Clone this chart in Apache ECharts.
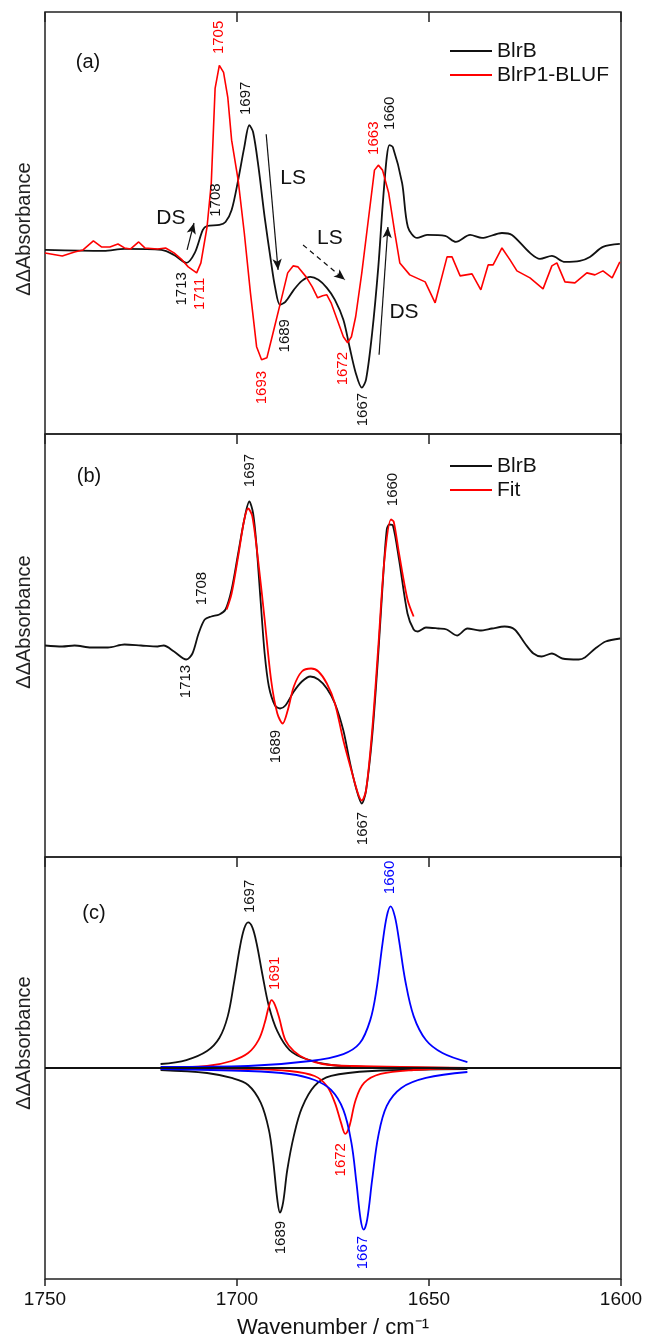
<!DOCTYPE html>
<html>
<head>
<meta charset="utf-8">
<title>BlrB FTIR difference spectra</title>
<script src="https://cdn.jsdelivr.net/npm/echarts@6/dist/echarts.min.js"></script>
<style>
  html, body { margin: 0; padding: 0; background: #fff; }
  #chart { width: 648px; height: 1340px; }
</style>
</head>
<body>
<div id="chart"></div>
<script>
// [wavenumber, ΔΔA (arb.)]
const blrbA = [[1750.0,-0.27],[1734.7,-0.28],[1729.3,-0.26],[1719.7,-0.27],[1716.4,-0.32],[1713.2,-0.40],[1711.0,-0.30],[1708.9,-0.07],[1707.8,-0.03],[1704.6,-0.02],[1703.0,0.01],[1701.4,0.13],[1699.7,0.43],[1698.1,0.76],[1696.8,0.98],[1695.8,0.91],[1694.4,0.56],[1692.8,0.06],[1691.1,-0.40],[1690.1,-0.64],[1688.8,-0.82],[1687.4,-0.79],[1685.2,-0.67],[1683.1,-0.58],[1680.9,-0.54],[1678.8,-0.57],[1676.6,-0.65],[1674.5,-0.77],[1672.3,-0.97],[1670.7,-1.24],[1669.1,-1.50],[1667.5,-1.65],[1666.4,-1.57],[1664.8,-1.10],[1663.2,-0.44],[1662.1,0.16],[1661.0,0.66],[1660.3,0.78],[1659.4,0.76],[1657.0,0.40],[1655.5,-0.04],[1653.1,-0.15],[1650.5,-0.12],[1645.8,-0.13],[1643.0,-0.19],[1639.3,-0.12],[1636.2,-0.15],[1631.0,-0.10],[1628.4,-0.12],[1623.7,-0.30],[1621.1,-0.36],[1618.0,-0.33],[1614.6,-0.39],[1610.7,-0.38],[1608.1,-0.34],[1604.7,-0.24],[1600.3,-0.21]];

const blrp1A = [[1750.0,-0.30],[1745.5,-0.33],[1742.3,-0.29],[1740.1,-0.27],[1737.4,-0.18],[1735.3,-0.24],[1733.1,-0.24],[1731.0,-0.21],[1729.3,-0.25],[1727.7,-0.26],[1725.6,-0.19],[1724.0,-0.25],[1720.7,-0.26],[1718.6,-0.25],[1716.4,-0.30],[1714.3,-0.37],[1712.7,-0.44],[1710.5,-0.50],[1709.4,-0.40],[1707.8,-0.04],[1706.7,0.40],[1705.7,1.35],[1704.6,1.58],[1703.5,1.51],[1702.4,1.26],[1701.4,0.83],[1699.7,0.43],[1698.1,-0.10],[1696.5,-0.70],[1694.9,-1.24],[1693.6,-1.37],[1692.2,-1.35],[1690.6,-1.10],[1688.5,-0.77],[1686.8,-0.50],[1685.4,-0.43],[1684.1,-0.44],[1682.0,-0.54],[1680.4,-0.64],[1679.0,-0.75],[1677.7,-0.73],[1676.6,-0.72],[1675.5,-0.80],[1673.9,-0.97],[1672.3,-1.14],[1671.2,-1.20],[1670.2,-1.14],[1669.1,-0.94],[1667.5,-0.50],[1665.9,0.00],[1664.2,0.53],[1663.2,0.58],[1662.1,0.53],[1660.5,0.30],[1658.9,-0.10],[1657.6,-0.40],[1655.0,-0.52],[1651.0,-0.59],[1648.4,-0.80],[1645.3,-0.34],[1644.0,-0.34],[1641.9,-0.53],[1638.8,-0.51],[1636.5,-0.67],[1634.6,-0.42],[1633.3,-0.42],[1631.0,-0.25],[1628.9,-0.37],[1627.1,-0.48],[1623.7,-0.55],[1620.3,-0.66],[1618.0,-0.43],[1616.7,-0.40],[1614.6,-0.59],[1612.0,-0.60],[1608.9,-0.50],[1606.8,-0.52],[1604.7,-0.48],[1602.3,-0.55],[1600.3,-0.39]];

const blrbB = [[1750,0.00],[1745.5,-0.01],[1742.3,0.00],[1738,-0.02],[1733.6,-0.02],[1729.3,0.01],[1725.0,0.00],[1720.7,-0.01],[1719.1,0.00],[1716.4,-0.06],[1713.2,-0.14],[1711.6,-0.08],[1710.0,0.12],[1708.4,0.26],[1706.7,0.29],[1704.6,0.31],[1703.0,0.36],[1701.4,0.56],[1699.7,0.92],[1698.1,1.26],[1696.8,1.44],[1695.8,1.32],[1694.9,0.99],[1693.8,0.42],[1692.8,-0.08],[1691.7,-0.41],[1690.1,-0.60],[1688.8,-0.63],[1687.4,-0.60],[1685.2,-0.46],[1683.1,-0.36],[1680.9,-0.31],[1678.8,-0.34],[1676.6,-0.43],[1674.5,-0.58],[1672.3,-0.85],[1670.7,-1.15],[1669.1,-1.41],[1667.5,-1.58],[1666.4,-1.45],[1664.8,-0.91],[1663.2,-0.08],[1662.1,0.59],[1661.0,1.16],[1660.3,1.21],[1659.4,1.20],[1657.8,0.86],[1655.6,0.32],[1654.0,0.16],[1652.9,0.14],[1650.8,0.18],[1647.6,0.17],[1645.4,0.16],[1642.7,0.10],[1640.0,0.17],[1636.8,0.15],[1633.6,0.17],[1630.3,0.19],[1627.7,0.16],[1625.0,0.02],[1622.8,-0.08],[1620.7,-0.11],[1618.0,-0.08],[1615.3,-0.13],[1611.0,-0.14],[1609.4,-0.12],[1606.7,-0.03],[1604.0,0.04],[1600.2,0.07]];

const fitB = [[1702.7,0.36],[1701.4,0.52],[1699.7,0.89],[1698.1,1.26],[1697.1,1.37],[1696.0,1.29],[1694.4,0.82],[1692.8,0.26],[1691.1,-0.35],[1689.5,-0.68],[1688.1,-0.78],[1686.8,-0.65],[1685.2,-0.41],[1683.1,-0.26],[1680.7,-0.23],[1678.8,-0.26],[1676.6,-0.38],[1674.5,-0.58],[1672.3,-0.95],[1670.2,-1.25],[1668.5,-1.48],[1667.5,-1.55],[1666.4,-1.45],[1664.8,-0.85],[1663.2,-0.01],[1661.6,0.86],[1659.9,1.26],[1659.2,1.24],[1657.8,0.92],[1655.6,0.46],[1654.0,0.29]];

const band1697 = [[1719.9,0.04],[1713.2,0.08],[1707.8,0.17],[1704.6,0.30],[1702.4,0.52],[1700.8,0.85],[1699.2,1.22],[1698.1,1.40],[1697.1,1.46],[1696.0,1.41],[1694.9,1.25],[1693.3,0.92],[1691.7,0.62],[1689.5,0.37],[1686.3,0.18],[1682.0,0.09],[1675.5,0.03],[1664.8,0.01],[1640.0,0.00]];
const band1689 = [[1719.9,-0.02],[1707.8,-0.05],[1701.4,-0.10],[1697.1,-0.17],[1693.8,-0.35],[1691.7,-0.62],[1690.6,-0.92],[1689.5,-1.32],[1688.8,-1.45],[1688.0,-1.35],[1686.9,-1.02],[1685.2,-0.68],[1683.1,-0.40],[1679.8,-0.18],[1675.5,-0.08],[1664.8,-0.03],[1640.0,-0.01]];
const band1691 = [[1719.9,0.00],[1707.8,0.02],[1701.4,0.07],[1697.1,0.15],[1694.4,0.28],[1692.8,0.45],[1691.7,0.62],[1691.0,0.68],[1690.1,0.63],[1689.0,0.50],[1687.4,0.28],[1685.2,0.17],[1682.0,0.09],[1677.7,0.04],[1670.2,0.02],[1640.0,0.00]];
const band1672 = [[1719.9,0.00],[1697.1,-0.01],[1686.3,-0.03],[1679.8,-0.08],[1676.6,-0.18],[1674.5,-0.35],[1672.9,-0.55],[1671.8,-0.66],[1670.7,-0.58],[1669.1,-0.32],[1666.9,-0.15],[1662.6,-0.06],[1654.0,-0.02],[1640.0,0.00]];
const band1660 = [[1719.9,0.01],[1697.1,0.02],[1680.9,0.07],[1672.3,0.14],[1668.0,0.25],[1665.3,0.48],[1663.7,0.78],[1662.1,1.25],[1661.0,1.52],[1660.0,1.62],[1658.9,1.52],[1657.8,1.28],[1656.2,0.88],[1654.0,0.52],[1650.8,0.28],[1646.5,0.15],[1640.0,0.06]];
const band1667 = [[1719.9,-0.01],[1697.1,-0.03],[1686.3,-0.06],[1679.8,-0.12],[1675.5,-0.22],[1672.3,-0.42],[1670.2,-0.75],[1668.9,-1.15],[1667.8,-1.52],[1667.0,-1.62],[1666.1,-1.52],[1664.8,-1.12],[1663.2,-0.68],[1661.0,-0.38],[1657.2,-0.20],[1650.8,-0.10],[1640.0,-0.04]];

// peak labels: [text, wavenumber, value]
const labelsA_black = [['1697',1697.7,1.25],['1708',1705.5,0.23],['1713',1714.3,-0.66],['1689',1687.5,-1.13],['1667',1667.2,-1.87],['1660',1660.2,1.10]];
const labelsA_red = [['1705',1704.7,1.86],['1711',1709.6,-0.71],['1693',1693.5,-1.65],['1672',1672.4,-1.46],['1663',1664.3,0.85]];
const notesA = [['DS',1717.2,0.05],['LS',1685.4,0.45],['LS',1675.8,-0.15],['DS',1656.5,-0.89]];
// arrows: [x1, y1, x2, y2, dashed]
const arrowsA = [[1713.0,-0.27,1711.2,0.00,false],[1692.4,0.89,1689.3,-0.47,false],[1682.8,-0.22,1671.9,-0.57,true],[1663.0,-1.32,1660.7,-0.04,false]];
const labelsB = [['1697',1696.6,1.75],['1708',1709.1,0.57],['1713',1713.3,-0.36],['1689',1689.8,-1.01],['1667',1667.2,-1.83],['1660',1659.4,1.56]];
const labelsC_black = [['1697',1696.6,1.72],['1689',1688.5,-1.70]];
const labelsC_red = [['1691',1690.1,0.95],['1672',1672.9,-0.92]];
const labelsC_blue = [['1660',1660.2,1.91],['1667',1667.2,-1.85]];

const xTicks = [1750, 1700, 1650, 1600];

const BLACK = '#111111', RED = '#ff0000', BLUE = '#0000ff';
const FONT = 'Liberation Sans, Arial, sans-serif';

function marks(list, color, extra) {
  const data = list.map(d => ({ name: d[0], coord: [d[1], d[2]] }));
  (extra || []).forEach(d => data.push({
    name: d[0], coord: [d[1], d[2]],
    label: { rotate: 0, fontSize: 21, color: BLACK }
  }));
  return {
    silent: true, symbol: 'circle', symbolSize: 0, animation: false,
    label: { show: true, position: 'inside', rotate: 90, color: color, fontSize: 15,
             fontFamily: FONT, formatter: p => p.name },
    data: data
  };
}

function line(name, data, color, xi, yi, smooth, width) {
  return { name: name, type: 'line', data: data, xAxisIndex: xi, yAxisIndex: yi,
           symbol: 'none', smooth: smooth, lineStyle: { color: color, width: width || 1.8 },
           itemStyle: { color: color }, z: 3 };
}

const grids = [
  { left: 45, right: 27, top: 12, height: 422 },
  { left: 45, right: 27, top: 434, height: 423 },
  { left: 45, right: 27, top: 857, height: 423 }
].map(g => Object.assign(g, { show: true, borderColor: '#222', borderWidth: 1.5, backgroundColor: 'transparent' }));

function topAxis(gi) {
  return { type: 'value', gridIndex: gi, position: 'top', min: 1600, max: 1750, interval: 50, inverse: true,
           axisLine: { show: false, onZero: false }, axisLabel: { show: false }, splitLine: { show: false },
           axisTick: { show: true, inside: true, length: 10, lineStyle: { color: '#222', width: 1.5 } } };
}

const xAxes = [topAxis(0), topAxis(1), {
  type: 'value', gridIndex: 2, position: 'bottom', min: 1600, max: 1750, interval: 50, inverse: true,
  axisLine: { show: false, onZero: false }, splitLine: { show: false },
  axisTick: { show: true, inside: false, length: 7, lineStyle: { color: '#222', width: 1.5 } },
  axisLabel: { fontSize: 19, color: BLACK, margin: 11, fontFamily: FONT,
               formatter: v => xTicks.includes(v) ? String(v) : '' },
  name: 'Wavenumber / cm⁻¹', nameLocation: 'middle', nameGap: 38,
  nameTextStyle: { fontSize: 22, color: BLACK, fontFamily: FONT }
}, topAxis(2)];

const yAxes = [0, 1, 2].map(gi => ({ type: 'value', gridIndex: gi, min: -2.115, max: 2.115, show: false,
                                     axisLine: { onZero: false } }));

const blackA = line('BlrB', blrbA, BLACK, 0, 0, 0.3);
blackA.markPoint = marks(labelsA_black, BLACK, notesA);
blackA.markLine = {
  silent: true, animation: false, symbol: ['none', 'arrow'], symbolSize: [7, 11],
  label: { show: false },
  lineStyle: { color: BLACK, width: 1.2, type: 'solid' },
  data: arrowsA.map(a => {
    const ls = { color: BLACK, width: 1.2, type: a[4] ? [5, 4] : 'solid' };
    return [{ coord: [a[0], a[1]], lineStyle: ls }, { coord: [a[2], a[3]], lineStyle: ls }];
  })
};
const redA = line('BlrP1-BLUF', blrp1A, RED, 0, 0, false, 1.6);
redA.markPoint = marks(labelsA_red, RED);

const blackB = line('BlrB', blrbB, BLACK, 1, 1, 0.3);
blackB.markPoint = marks(labelsB, BLACK);
const fitLine = line('Fit', fitB, RED, 1, 1, 0.3);

const c1 = line('c1697', band1697, BLACK, 2, 2, 0.35);
c1.markPoint = marks(labelsC_black, BLACK);
c1.markLine = { silent: true, animation: false, symbol: 'none', label: { show: false },
                lineStyle: { color: BLACK, width: 2, type: 'solid' }, data: [{ yAxis: 0 }] };
const c2 = line('c1689', band1689, BLACK, 2, 2, 0.35);
const c3 = line('c1691', band1691, RED, 2, 2, 0.35);
c3.markPoint = marks(labelsC_red, RED);
const c4 = line('c1672', band1672, RED, 2, 2, 0.35);
const c5 = line('c1660', band1660, BLUE, 2, 2, 0.35);
c5.markPoint = marks(labelsC_blue, BLUE);
const c6 = line('c1667', band1667, BLUE, 2, 2, 0.35);

function legendAt(top, names) {
  return { show: true, orient: 'vertical', left: 450, top: top, itemGap: 2, padding: 0,
           itemWidth: 42, itemHeight: 2, icon: 'rect', data: names,
           textStyle: { fontSize: 21, color: BLACK, fontFamily: FONT, lineHeight: 22 },
           selectedMode: false };
}

function yTitle(y) {
  return { type: 'text', x: 24, y: y, rotation: Math.PI / 2,
           style: { text: 'ΔΔAbsorbance', fontSize: 20, fill: '#222', fontFamily: FONT,
                    textAlign: 'center', textVerticalAlign: 'middle' } };
}
function panelTag(t, x, y) {
  return { type: 'text', x: x, y: y,
           style: { text: t, fontSize: 20, fill: BLACK, fontFamily: FONT,
                    textAlign: 'center', textVerticalAlign: 'middle' } };
}

const chart = echarts.init(document.getElementById('chart'));
chart.setOption({
  animation: false,
  backgroundColor: '#fff',
  textStyle: { fontFamily: FONT },
  grid: grids,
  xAxis: xAxes,
  yAxis: yAxes,
  legend: [legendAt(40, ['BlrB', 'BlrP1-BLUF']), legendAt(455, ['BlrB', 'Fit'])],
  graphic: [yTitle(229), yTitle(622), yTitle(1043),
            panelTag('(a)', 88, 62), panelTag('(b)', 89, 476), panelTag('(c)', 94, 913)],
  series: [blackA, redA, blackB, fitLine, c1, c2, c3, c4, c5, c6]
});
</script>
</body>
</html>
